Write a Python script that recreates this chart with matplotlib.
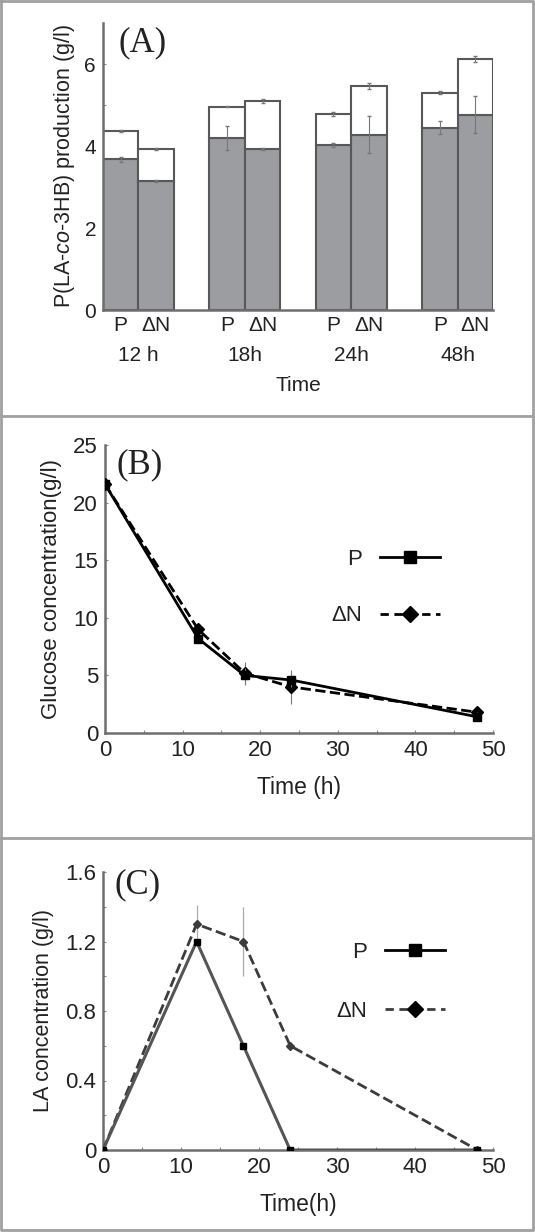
import matplotlib
matplotlib.use("Agg")
import matplotlib.pyplot as plt
from matplotlib.lines import Line2D
import numpy as np

plt.rcParams['font.family'] = ['Liberation Sans', 'DejaVu Sans']
plt.rcParams['mathtext.fontset'] = 'custom'
plt.rcParams['mathtext.rm'] = 'Liberation Sans'
plt.rcParams['mathtext.it'] = 'Liberation Sans:italic'

# ---- data ----
groups = ['12 h', '18h', '24h', '48h']
strains = ['P', 'ΔN']
# panel A: lower (gray) part and total height of stacked bars, order P, ΔN per group
gray_P = [3.68, 4.20, 4.02, 4.45]
gray_N = [3.15, 3.93, 4.28, 4.76]
total_P = [4.37, 4.96, 4.77, 5.30]
total_N = [3.93, 5.10, 5.46, 6.13]
gray_err_P = [0.06, 0.30, 0.05, 0.15]
gray_err_N = [0.03, 0.03, 0.45, 0.45]
total_err_P = [0.03, 0.02, 0.05, 0.04]
total_err_N = [0.02, 0.04, 0.07, 0.07]

# panel B: glucose
time_h = [0, 12, 18, 24, 48]
glc_P = [21.6, 8.2, 5.0, 4.6, 1.4]
glc_N = [21.6, 9.0, 5.2, 4.0, 1.8]
glc_err_P = [0.3, 0.3, 0.6, 0.6, 0.4]
glc_err_N = [0.3, 0.4, 1.0, 1.5, 0.5]

# panel C: lactate
la_P = [0.0, 1.2, 0.6, 0.0, 0.0]
la_N = [0.0, 1.3, 1.2, 0.6, 0.0]
la_err_N = [0.0, 0.11, 0.2, 0.0, 0.0]

fig = plt.figure(figsize=(5.35, 12.32), dpi=100)
W, H = 535, 1232


def axes_px(left, right, top, bottom):
    return fig.add_axes([left / W, 1 - bottom / H, (right - left) / W, (bottom - top) / H])


spine_col = '#6e6e6e'


def style(ax):
    for s in ['top', 'right']:
        ax.spines[s].set_visible(False)
    for s in ['left', 'bottom']:
        ax.spines[s].set_color(spine_col)
        ax.spines[s].set_linewidth(1.8)
    ax.tick_params(which='both', direction='in', length=2, width=0.8, color='#888888',
                   labelsize=16, pad=5, labelcolor='#222222')


# ---- panel A ----
axA = axes_px(103, 493, 23, 310)
style(axA)
centers = np.arange(len(groups)) * 3
xP = centers - 0.5
xN = centers + 0.5
gcol = '#9c9da1'
ecol = '#585858'
axA.bar(xP, gray_P, width=1, color=gcol, edgecolor=ecol, linewidth=1.5, zorder=2)
axA.bar(xN, gray_N, width=1, color=gcol, edgecolor=ecol, linewidth=1.5, zorder=2)
axA.bar(xP, np.array(total_P) - np.array(gray_P), bottom=gray_P, width=1, color='white',
        edgecolor=ecol, linewidth=1.5, zorder=2)
axA.bar(xN, np.array(total_N) - np.array(gray_N), bottom=gray_N, width=1, color='white',
        edgecolor=ecol, linewidth=1.5, zorder=2)
for x, y, e in [(xP, gray_P, gray_err_P), (xN, gray_N, gray_err_N),
                (xP, total_P, total_err_P), (xN, total_N, total_err_N)]:
    axA.errorbar(x, y, yerr=e, fmt='none', ecolor='#777777', elinewidth=0.8, capsize=1.5, zorder=3)
axA.set_xlim(-1, 10)
axA.set_ylim(0, 7)
axA.set_yticks([0, 2, 4, 6])
axA.set_yticks([1, 3, 5], minor=True)
axA.tick_params(axis='y', labelsize=15)
axA.set_xticks(np.concatenate([xP, xN]))
axA.set_xticklabels(['P'] * 4 + ['ΔN'] * 4)
axA.tick_params(axis='x', length=0, labelsize=15, pad=4)
for c, g in zip(centers, groups):
    axA.annotate(g, xy=(c, 0), xycoords=('data', 'axes fraction'), xytext=(0, -33),
                 textcoords='offset points', ha='center', va='center', fontsize=15,
                 color='#222222')
axA.text(0.5, -0.262, 'Time', transform=axA.transAxes, ha='center', va='center', fontsize=15,
         color='#222222')
axA.set_ylabel('P(LA-$\\it{co}$-3HB) production (g/l)', fontsize=15.5, labelpad=5, color='#222222')
axA.text(0.04, 0.93, '(A)', transform=axA.transAxes, fontsize=25, family='Liberation Serif',
         ha='left', va='center', color='#222222')

# ---- panel B ----
axB = axes_px(105, 493, 445, 733)
style(axB)
axB.errorbar(time_h, glc_N, yerr=glc_err_N, color='black', ls='--', lw=2, marker='D', ms=6,
             ecolor='#777777', elinewidth=0.8, capsize=0, zorder=3)
axB.errorbar(time_h, glc_P, yerr=glc_err_P, color='black', ls='-', lw=2, marker='s', ms=6,
             ecolor='#777777', elinewidth=0.8, capsize=0, zorder=4)
axB.set_xlim(0, 50)
axB.set_ylim(0, 25)
axB.set_xticks(np.arange(0, 51, 10))
axB.set_xticks(np.arange(5, 50, 10), minor=True)
axB.set_yticks(np.arange(0, 26, 5))
axB.set_xlabel('Time (h)', fontsize=16.5, labelpad=11, color='#222222')
axB.set_ylabel('Glucose concentration(g/l)', fontsize=16, labelpad=8, color='#222222')
axB.text(0.03, 0.93, '(B)', transform=axB.transAxes, fontsize=25, family='Liberation Serif',
         ha='left', va='center', color='#222222')
hB = [Line2D([], [], color='black', ls='-', lw=2, marker='s', ms=9),
      Line2D([], [], color='black', ls=(0, (3, 2)), lw=2, marker='D', ms=8)]
axB.legend(hB, strains, loc='center right', bbox_to_anchor=(0.863, 0.505), frameon=False,
           markerfirst=False, handlelength=2.7, handletextpad=0.8, labelspacing=1.6,
           borderpad=0, borderaxespad=0, fontsize=16, labelcolor='#222222')

# ---- panel C ----
axC = axes_px(103, 493, 872, 1150)
style(axC)
axC.errorbar(time_h, la_N, yerr=la_err_N, color='#3c3c3c', ls='--', lw=2, marker='D', ms=4,
             ecolor='#aaaaaa', elinewidth=0.9, capsize=0, zorder=3)
axC.plot(time_h, la_P, color='#555555', ls='-', lw=2.2, marker='s', ms=5, mfc='black', mec='black',
         zorder=4)
axC.set_xlim(0, 50)
axC.set_ylim(0, 1.6)
axC.set_xticks(np.arange(0, 51, 10))
axC.set_xticks(np.arange(5, 50, 10), minor=True)
axC.set_yticks([0, 0.4, 0.8, 1.2, 1.6])
axC.set_yticklabels(['0', '0.4', '0.8', '1.2', '1.6'])
axC.set_yticks([0.2, 0.6, 1.0, 1.4], minor=True)
axC.set_xlabel('Time(h)', fontsize=16.5, labelpad=11, color='#222222')
axC.set_ylabel('LA concentration (g/l)', fontsize=15.5, labelpad=8, color='#222222')
axC.text(0.03, 0.953, '(C)', transform=axC.transAxes, fontsize=25, family='Liberation Serif',
         ha='left', va='center', color='#222222')
hC = [Line2D([], [], color='black', ls='-', lw=2, marker='s', ms=9),
      Line2D([], [], color='#3c3c3c', ls=(0, (3, 2)), lw=2, marker='D', ms=8, mfc='black', mec='black')]
axC.legend(hC, strains, loc='center right', bbox_to_anchor=(0.877, 0.605), frameon=False,
           markerfirst=False, handlelength=2.7, handletextpad=0.8, labelspacing=1.7,
           borderpad=0, borderaxespad=0, fontsize=16, labelcolor='#222222')

# ---- panel frames ----
fcol = '#a0a0a0'
for y in [416, 838]:
    fig.add_artist(Line2D([0, 1], [1 - y / H, 1 - y / H], color=fcol, lw=2))
fig.add_artist(Line2D([1 / W, 1 / W, 533 / W, 533 / W, 1 / W],
                      [1 - 1 / H, 1 - 1230 / H, 1 - 1230 / H, 1 - 1 / H, 1 - 1 / H],
                      color=fcol, lw=2))

fig.savefig('out.png', dpi=100)
